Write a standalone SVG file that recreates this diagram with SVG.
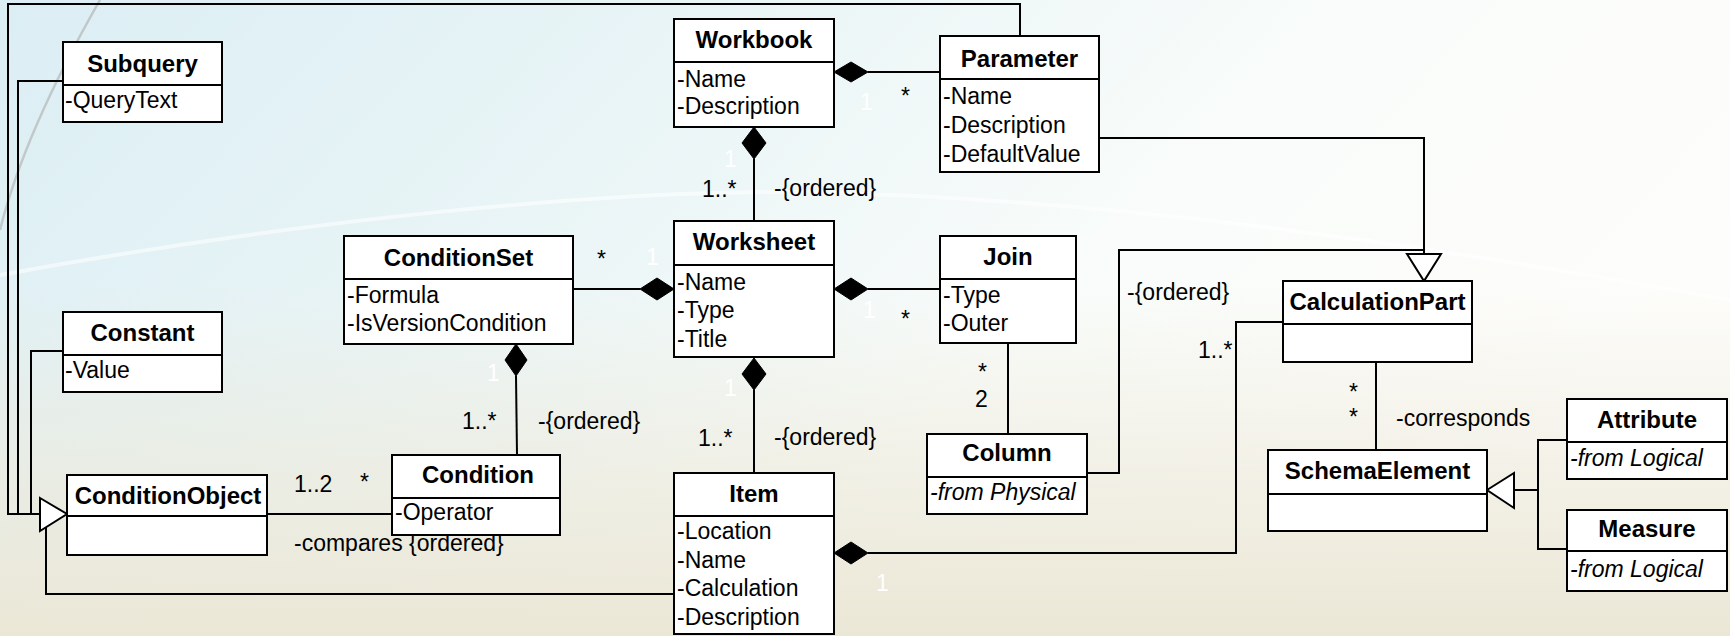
<svg xmlns="http://www.w3.org/2000/svg" width="1730" height="636" viewBox="0 0 1730 636">
<defs>
<linearGradient id="bgH" x1="0" y1="0" x2="1" y2="0.35">
<stop offset="0" stop-color="#dbeef4"/>
<stop offset="0.35" stop-color="#e8f4f6"/>
<stop offset="0.7" stop-color="#f9fcfa"/>
<stop offset="1" stop-color="#fdfdfb"/>
</linearGradient>
<linearGradient id="bgB" x1="0" y1="0" x2="0" y2="1">
<stop offset="0" stop-color="#ece8d8" stop-opacity="0"/>
<stop offset="0.45" stop-color="#ece8d8" stop-opacity="0"/>
<stop offset="0.75" stop-color="#ece8d8" stop-opacity="0.6"/>
<stop offset="1" stop-color="#ebe7d6" stop-opacity="1"/>
</linearGradient>
<style>
.box{fill:#ffffff;stroke:#000000;stroke-width:2}
.div{stroke:#000000;stroke-width:2}
.t{font-family:"Liberation Sans",Arial,sans-serif;font-size:24px;font-weight:bold;text-anchor:middle;fill:#000}
.a{font-family:"Liberation Sans",Arial,sans-serif;font-size:23px;fill:#000}
.i{font-style:italic}
.lbl{font-family:"Liberation Sans",Arial,sans-serif;font-size:23px;fill:#000}
.w{font-family:"Liberation Sans",Arial,sans-serif;font-size:23px;fill:#ffffff}
.ln{fill:none;stroke:#000000;stroke-width:2}
.dia{fill:#000000;stroke:#000000;stroke-width:1}
.tri{fill:#ffffff;stroke:#000000;stroke-width:2}
</style>
</defs>
<rect x="0" y="0" width="1730" height="636" fill="url(#bgH)"/>
<rect x="0" y="0" width="1730" height="636" fill="url(#bgB)"/>
<path d="M0,275 C300,220 600,190 800,192 C1100,198 1400,240 1730,300" fill="none" stroke="#ffffff" stroke-width="4" stroke-opacity="0.55"/>
<path d="M100,0 C60,70 20,150 0,230" fill="none" stroke="#b4b8b8" stroke-width="2.5" stroke-opacity="0.7"/>

<g id="connectors">
<polyline class="ln" points="1020,36 1020,4 8,4 8,514 44,514"/>
<polyline class="ln" points="63,81 18,81 18,514"/>
<polyline class="ln" points="63,351 31,351 31,514"/>
<polyline class="ln" points="674,594 46,594 46,520"/>
<polygon class="tri" points="40,498 67,514 40,531"/>
<polyline class="ln" points="1099,138 1424,138 1424,256"/>
<polyline class="ln" points="1087,473 1119,473 1119,250 1424,250"/>
<polygon class="tri" points="1407,254 1441,254 1424,281"/>
<polyline class="ln" points="1567,440 1538,440 1538,549 1567,549"/>
<line class="ln" x1="1514" y1="490" x2="1538" y2="490"/>
<polygon class="tri" points="1487,490 1514,473 1514,508"/>
<line class="ln" x1="868" y1="72" x2="940" y2="72"/>
<polygon class="dia" points="834,72 851,62 868,72 851,82"/>
<line class="ln" x1="754" y1="159" x2="754" y2="221"/>
<polygon class="dia" points="754,127 766,143 754,159 742,143"/>
<line class="ln" x1="573" y1="289" x2="640" y2="289"/>
<polygon class="dia" points="674,289 657,278 640,289 657,300"/>
<line class="ln" x1="868" y1="289" x2="940" y2="289"/>
<polygon class="dia" points="834,289 851,278 868,289 851,300"/>
<line class="ln" x1="754" y1="390" x2="754" y2="473"/>
<polygon class="dia" points="754,358 766,374 754,390 742,374"/>
<line class="ln" x1="516" y1="376" x2="517" y2="455"/>
<polygon class="dia" points="516,344 527,360 516,376 505,360"/>
<line class="ln" x1="267" y1="514" x2="392" y2="514"/>
<line class="ln" x1="1008" y1="343" x2="1008" y2="434"/>
<polyline class="ln" points="868,553 1236,553 1236,322 1283,322"/>
<polygon class="dia" points="834,553 851,542 868,553 851,564"/>
<line class="ln" x1="1376" y1="362" x2="1376" y2="450"/>

<text class="lbl" x="901" y="104">*</text>
<text class="w" x="860" y="110">1</text>
<text class="lbl" x="702" y="197">1..*</text>
<text class="lbl" x="774" y="196">-{ordered}</text>
<text class="w" x="724" y="167">1</text>
<text class="lbl" x="597" y="267">*</text>
<text class="w" x="646" y="265">1</text>
<text class="lbl" x="901" y="327">*</text>
<text class="w" x="863" y="318">1</text>
<text class="lbl" x="978" y="380">*</text>
<text class="lbl" x="975" y="407">2</text>
<text class="w" x="724" y="396">1</text>
<text class="lbl" x="698" y="446">1..*</text>
<text class="lbl" x="774" y="445">-{ordered}</text>
<text class="w" x="876" y="591">1</text>
<text class="lbl" x="1127" y="300">-{ordered}</text>
<text class="lbl" x="1198" y="358">1..*</text>
<text class="lbl" x="1349" y="400">*</text>
<text class="lbl" x="1349" y="425">*</text>
<text class="lbl" x="1396" y="426">-corresponds</text>
<text class="lbl" x="462" y="429">1..*</text>
<text class="lbl" x="538" y="429">-{ordered}</text>
<text class="w" x="487" y="381">1</text>
<text class="lbl" x="294" y="492">1..2</text>
<text class="lbl" x="360" y="490">*</text>
<text class="lbl" x="294" y="551">-compares {ordered}</text>
</g>

<g id="Subquery">
<rect class="box" x="63" y="42" width="159" height="80"/>
<line class="div" x1="63" y1="85" x2="222" y2="85"/>
<text class="t" x="142.5" y="72">Subquery</text>
<text class="a" x="65" y="108">-QueryText</text>
</g>
<g id="Constant">
<rect class="box" x="63" y="312" width="159" height="80"/>
<line class="div" x1="63" y1="355" x2="222" y2="355"/>
<text class="t" x="142.5" y="341">Constant</text>
<text class="a" x="65" y="378">-Value</text>
</g>
<g id="ConditionSet">
<rect class="box" x="344" y="236" width="229" height="108"/>
<line class="div" x1="344" y1="279" x2="573" y2="279"/>
<text class="t" x="458.5" y="266">ConditionSet</text>
<text class="a" x="347" y="303">-Formula</text>
<text class="a" x="347" y="331">-IsVersionCondition</text>
</g>
<g id="Workbook">
<rect class="box" x="674" y="19" width="160" height="108"/>
<line class="div" x1="674" y1="62" x2="834" y2="62"/>
<text class="t" x="754" y="48">Workbook</text>
<text class="a" x="677" y="87">-Name</text>
<text class="a" x="677" y="114">-Description</text>
</g>
<g id="Parameter">
<rect class="box" x="940" y="36" width="159" height="136"/>
<line class="div" x1="940" y1="79" x2="1099" y2="79"/>
<text class="t" x="1019.5" y="67">Parameter</text>
<text class="a" x="943" y="104">-Name</text>
<text class="a" x="943" y="133">-Description</text>
<text class="a" x="943" y="162">-DefaultValue</text>
</g>
<g id="Worksheet">
<rect class="box" x="674" y="221" width="160" height="136"/>
<line class="div" x1="674" y1="265" x2="834" y2="265"/>
<text class="t" x="754" y="250">Worksheet</text>
<text class="a" x="677" y="290">-Name</text>
<text class="a" x="677" y="318">-Type</text>
<text class="a" x="677" y="347">-Title</text>
</g>
<g id="Join">
<rect class="box" x="940" y="236" width="136" height="107"/>
<line class="div" x1="940" y1="279" x2="1076" y2="279"/>
<text class="t" x="1008" y="265">Join</text>
<text class="a" x="943" y="303">-Type</text>
<text class="a" x="943" y="331">-Outer</text>
</g>
<g id="Condition">
<rect class="box" x="392" y="455" width="168" height="80"/>
<line class="div" x1="392" y1="498" x2="560" y2="498"/>
<text class="t" x="478" y="483">Condition</text>
<text class="a" x="395" y="520">-Operator</text>
</g>
<g id="ConditionObject">
<rect class="box" x="67" y="475" width="200" height="80"/>
<line class="div" x1="67" y1="516" x2="267" y2="516"/>
<text class="t" x="168" y="504">ConditionObject</text>
</g>
<g id="Item">
<rect class="box" x="674" y="473" width="160" height="161"/>
<line class="div" x1="674" y1="516" x2="834" y2="516"/>
<text class="t" x="754" y="502">Item</text>
<text class="a" x="677" y="539">-Location</text>
<text class="a" x="677" y="568">-Name</text>
<text class="a" x="677" y="596">-Calculation</text>
<text class="a" x="677" y="625">-Description</text>
</g>
<g id="Column">
<rect class="box" x="927" y="434" width="160" height="80"/>
<line class="div" x1="927" y1="477" x2="1087" y2="477"/>
<text class="t" x="1007" y="461">Column</text>
<text class="a i" x="930" y="500">-from Physical</text>
</g>
<g id="CalculationPart">
<rect class="box" x="1283" y="281" width="189" height="81"/>
<line class="div" x1="1283" y1="324" x2="1472" y2="324"/>
<text class="t" x="1377.5" y="310">CalculationPart</text>
</g>
<g id="SchemaElement">
<rect class="box" x="1268" y="450" width="219" height="81"/>
<line class="div" x1="1268" y1="494" x2="1487" y2="494"/>
<text class="t" x="1377.5" y="479">SchemaElement</text>
</g>
<g id="Attribute">
<rect class="box" x="1567" y="399" width="160" height="80"/>
<line class="div" x1="1567" y1="442" x2="1727" y2="442"/>
<text class="t" x="1647" y="428">Attribute</text>
<text class="a i" x="1570" y="466">-from Logical</text>
</g>
<g id="Measure">
<rect class="box" x="1567" y="510" width="160" height="81"/>
<line class="div" x1="1567" y1="551" x2="1727" y2="551"/>
<text class="t" x="1647" y="537">Measure</text>
<text class="a i" x="1570" y="577">-from Logical</text>
</g>
</svg>
